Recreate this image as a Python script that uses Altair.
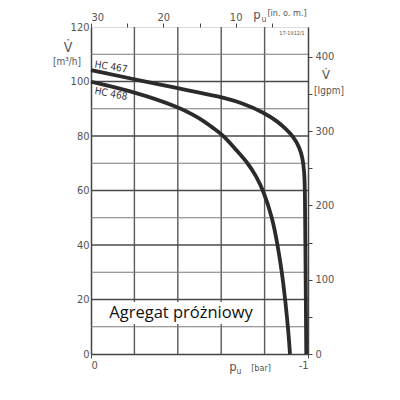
import altair as alt
import pandas as pd

# ---- data ----
bar_467 = [0, -0.2, -0.4, -0.6, -0.7, -0.8, -0.86, -0.90, -0.93, -0.96, -0.975, -0.983, -0.986, -0.988, -0.99, -0.992]
flow_467 = [104.2, 100.8, 97.5, 94.4, 92.0, 88.5, 85.3, 82.5, 80.0, 76.0, 72.0, 67.0, 60.0, 40.0, 20.0, 0]
bar_468 = [0, -0.2, -0.4, -0.5, -0.57, -0.613, -0.667, -0.724, -0.763, -0.794, -0.836, -0.86, -0.88, -0.895, -0.91, -0.917]
flow_468 = [99.9, 96.2, 90.8, 86.6, 82.5, 80.0, 75.0, 70.0, 65.0, 60.0, 50.0, 40.0, 30.0, 20.0, 8.0, 0]

bar_grid = [-0.2, -0.4, -0.6, -0.8]
flow_major = [20, 40, 60, 80, 100]
flow_minor = [10, 30, 50, 70, 90, 110]
left_ticks = [0, 20, 40, 60, 80, 100, 120]
bottom_ticks = [0, -1]
top_ticks = [30, 25, 20, 15, 10, 5]
right_ticks = [0, 50, 100, 150, 200, 250, 300, 350, 400]

FONT = "DejaVu Sans Condensed, Liberation Sans Narrow, DejaVu Sans"
LAB = "#555555"
XD = [0, -1]
YD = [0, 120]

curves = pd.DataFrame(
    [{"model": "HC 467", "bar": b, "flow": f, "i": i} for i, (b, f) in enumerate(zip(bar_467, flow_467))]
    + [{"model": "HC 468", "bar": b, "flow": f, "i": i} for i, (b, f) in enumerate(zip(bar_468, flow_468))]
)

vgrid = alt.Chart(pd.DataFrame({"bar": bar_grid})).mark_rule(color="#5a5a5a", strokeWidth=1.4).encode(
    x=alt.X("bar:Q", scale=alt.Scale(domain=XD, nice=False),
            axis=alt.Axis(values=bottom_ticks, labelExpr="datum.value == 0 ? '0' : '-1'",
                          orient="bottom", grid=False, tickSize=4, labelPadding=1, title=None,
                          labelColor=LAB, labelFontSize=11, labelFont=FONT,
                          domainColor="#444", domainWidth=1.5, tickColor="#444"))
)
hmajor = alt.Chart(pd.DataFrame({"flow": flow_major})).mark_rule(color="#4a4a4a", strokeWidth=1.7).encode(
    y=alt.Y("flow:Q", scale=alt.Scale(domain=YD, nice=False),
            axis=alt.Axis(values=left_ticks, orient="left", grid=False, tickSize=0, labelPadding=2,
                          title=None, labelColor=LAB, labelFontSize=11, labelFont=FONT,
                          domainColor="#444", domainWidth=1.5))
)
hminor = alt.Chart(pd.DataFrame({"flow": flow_minor})).mark_rule(color="#7a7a7a", strokeWidth=1.2).encode(
    y=alt.Y("flow:Q", scale=alt.Scale(domain=YD, nice=False), axis=None)
)
lines = alt.Chart(curves).mark_line(strokeWidth=3.8, interpolate="basis").encode(
    x=alt.X("bar:Q", scale=alt.Scale(domain=XD, nice=False), axis=None),
    y=alt.Y("flow:Q", scale=alt.Scale(domain=YD, nice=False), axis=None),
    detail="model:N",
    order="i:Q",
    color=alt.value("#2b2b2b"),
)

secondary = alt.Chart(pd.DataFrame({"m": [30, 0], "ig": [0, 440]})).mark_point(opacity=0).encode(
    x=alt.X("m:Q", scale=alt.Scale(domain=[30, 0], nice=False),
            axis=alt.Axis(values=top_ticks, orient="top",
                          labelExpr="(datum.value % 10 == 0) ? datum.label : ''",
                          grid=False, tickSize=4, labelPadding=1, title=None, domain=False,
                          labelColor=LAB, labelFontSize=11, labelFont=FONT, tickColor="#444")),
    y=alt.Y("ig:Q", scale=alt.Scale(domain=[0, 440], nice=False),
            axis=alt.Axis(values=right_ticks, orient="right",
                          labelExpr="(datum.value % 100 == 0) ? datum.label : ''",
                          grid=False, tickSize=4, labelPadding=3, title=None,
                          domainColor="#444", domainWidth=1.5,
                          labelColor=LAB, labelFontSize=11, labelFont=FONT, tickColor="#444")),
)

one = pd.DataFrame({"k": [0]})

box = alt.Chart(one).mark_rect(color="white").encode(
    x=alt.value(14), x2=alt.value(167), y=alt.value(275), y2=alt.value(297)
)


def txt(s, x, y, size, color=LAB, font=FONT, angle=0, align="center", baseline="middle"):
    return alt.Chart(one).mark_text(text=s, fontSize=size, color=color, font=font, angle=angle,
                                    align=align, baseline=baseline).encode(
        x=alt.value(x), y=alt.value(y))


texts = [
    txt("V\u0307", -23, 21, 14),
    txt("[m³/h]", -24, 35, 10),
    txt("V\u0307", 235, 48, 13),
    txt("[Igpm]", 238, 64, 10),
    txt("p", 166, -12, 13),
    txt("u", 173, -8, 8.5),
    txt("[in. o. m.]", 196, -14, 9),
    txt("17-1912/1", 201, 6, 5.5),
    txt("p", 142, 340, 13),
    txt("u", 148, 344, 8.5),
    txt("[bar]", 170, 341, 9),
    txt("HC 467", 20, 40, 10, color="#333", angle=9),
    txt("HC 468", 20, 67, 10, color="#333", angle=11),
    txt("Agregat próżniowy", 90, 286, 16.5, color="#111", font="Open Sans"),
]

chart = alt.layer(vgrid, hmajor, hminor, lines, secondary, box, *texts).resolve_scale(
    x="independent", y="independent"
).properties(
    width=217, height=327, autosize="none",
    padding={"left": 83, "top": 19, "right": 84, "bottom": 38},
).configure_view(stroke="#444", strokeWidth=1.5).configure(background="white")

chart.save("out.html", embed_options={"renderer": "svg", "actions": False})
